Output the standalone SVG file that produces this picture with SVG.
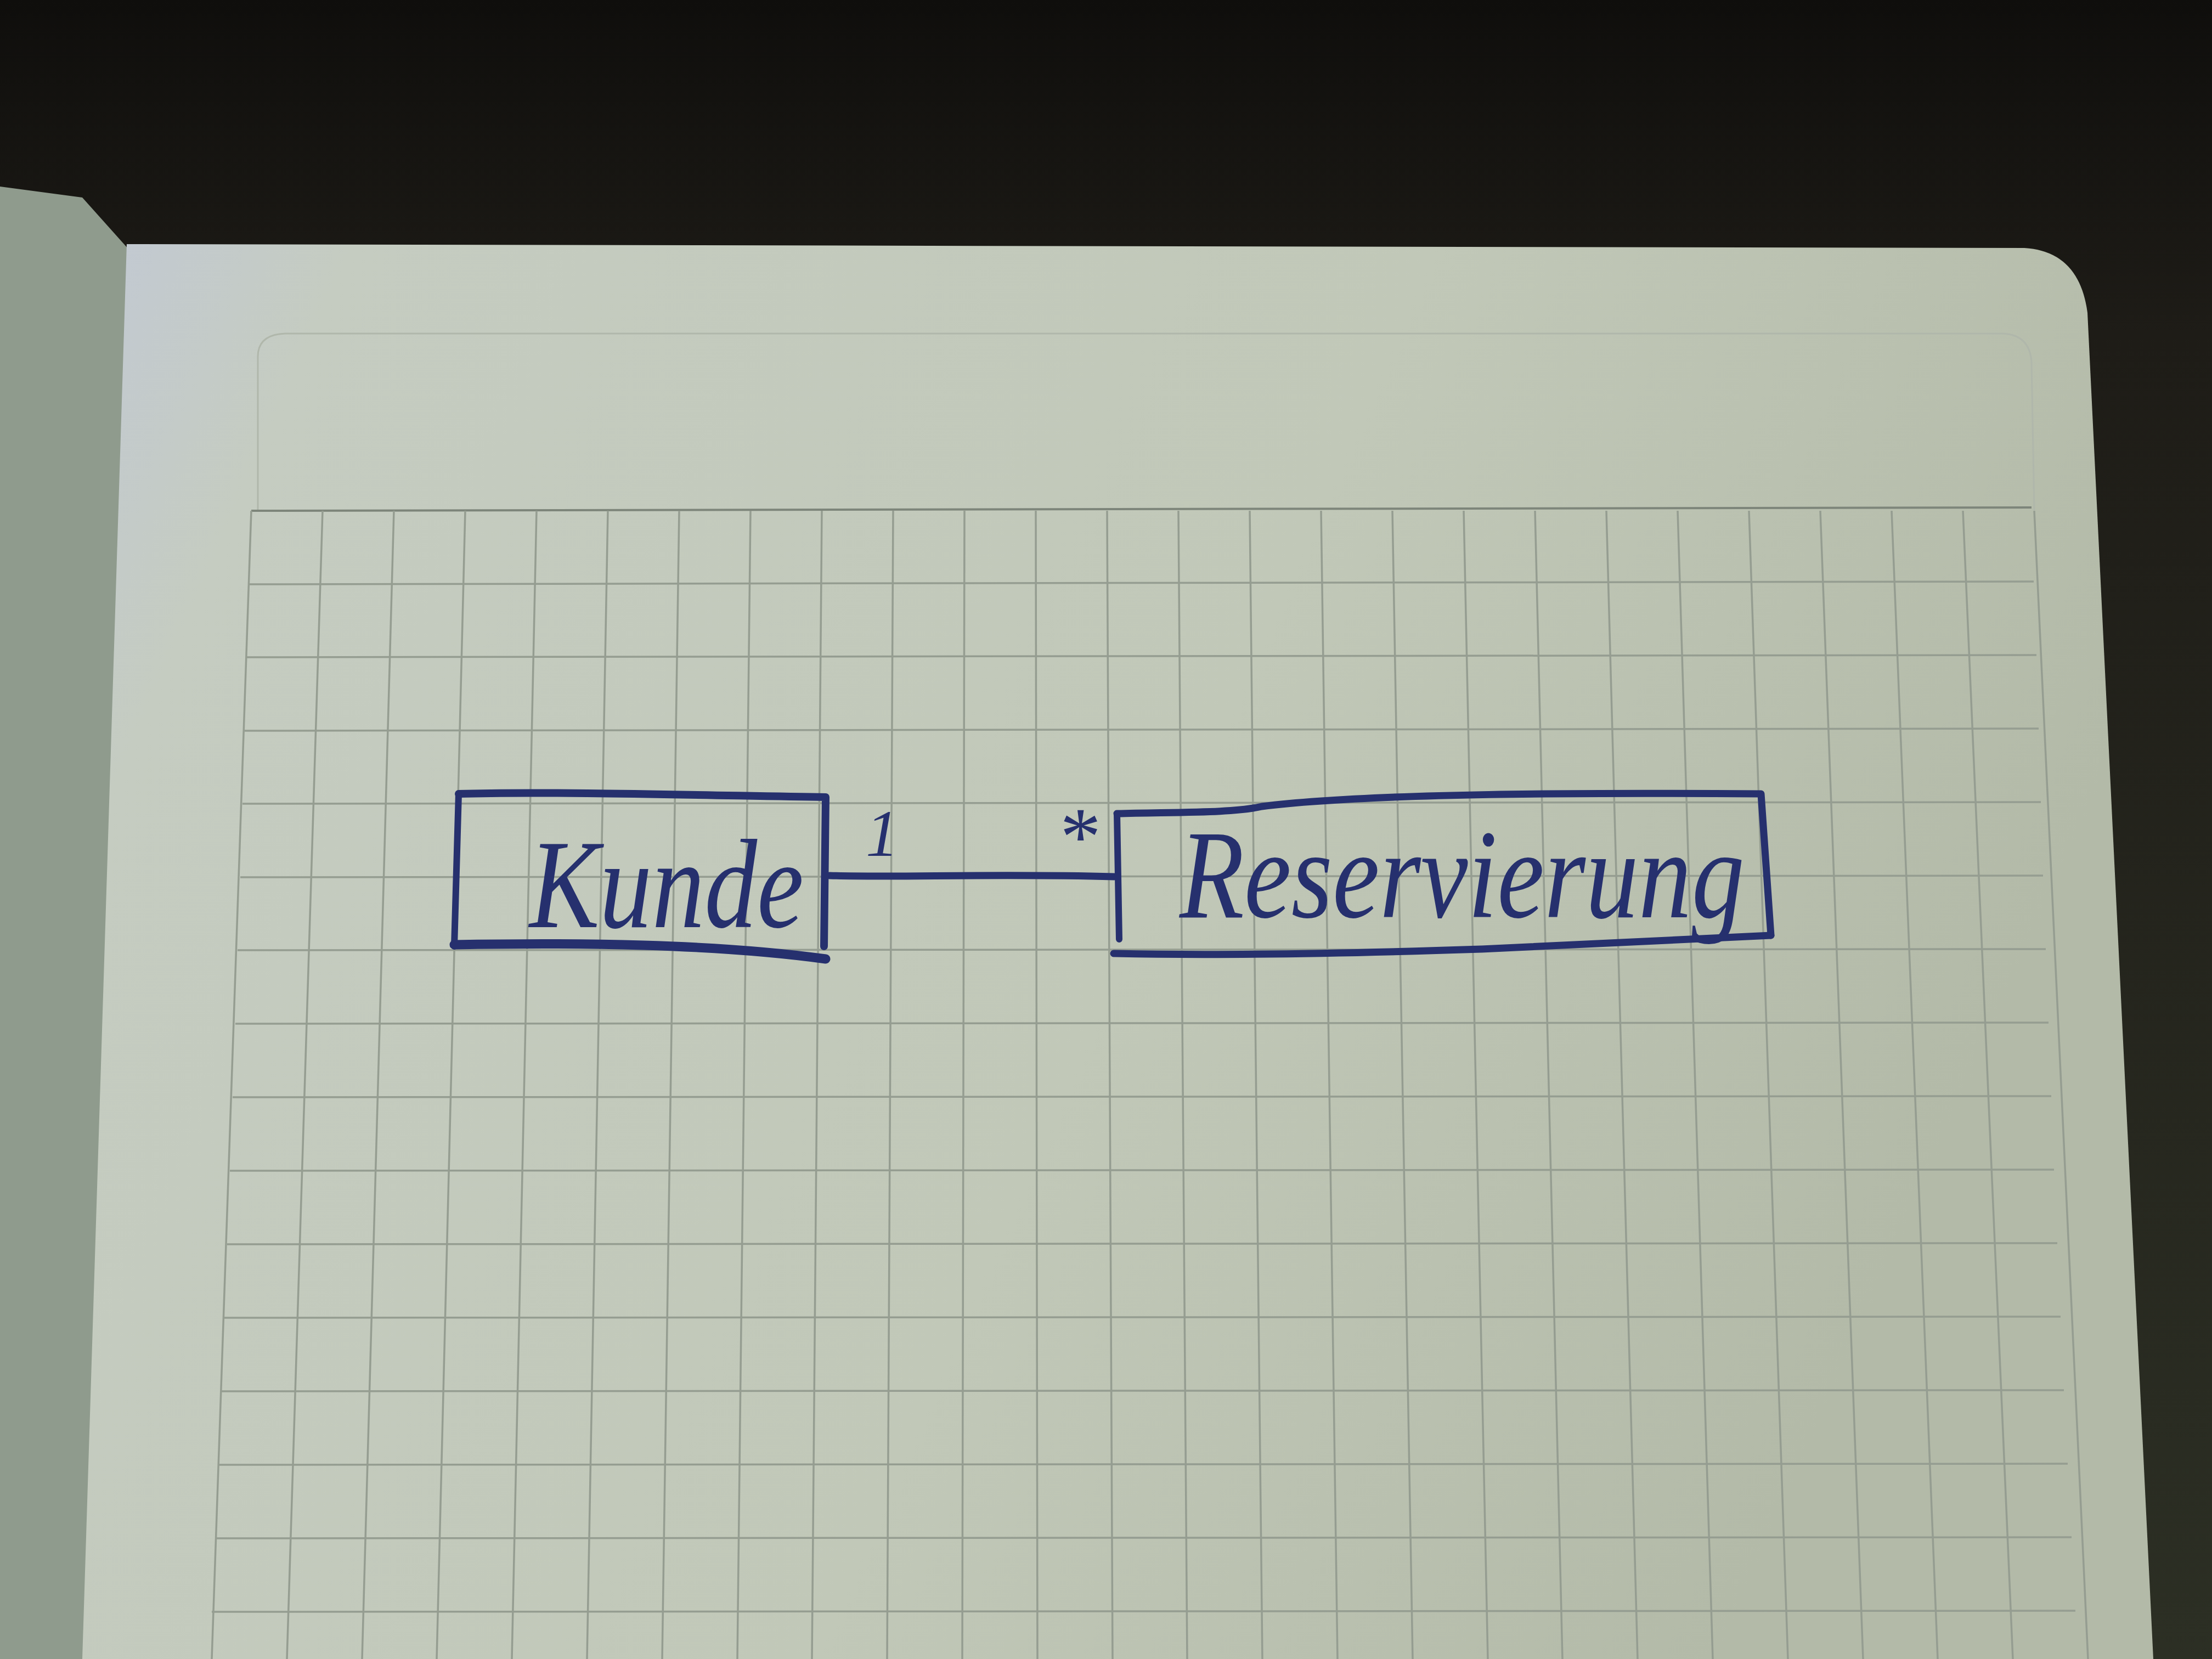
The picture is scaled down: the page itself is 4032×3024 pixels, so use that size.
<svg xmlns="http://www.w3.org/2000/svg" width="4032" height="3024" viewBox="0 0 4032 3024">
<defs>
<linearGradient id="paper" x1="0" y1="0" x2="1" y2="0.3">
<stop offset="0" stop-color="#c2c9d4"/>
<stop offset="0.12" stop-color="#c5ccc1"/>
<stop offset="0.6" stop-color="#c1c8b8"/>
<stop offset="1" stop-color="#b3baa8"/>
</linearGradient>
<linearGradient id="bg" x1="0" y1="0" x2="0" y2="1">
<stop offset="0" stop-color="#0f0e0c"/>
<stop offset="0.2" stop-color="#1e1c17"/>
<stop offset="1" stop-color="#2c2f24"/>
</linearGradient>
<style>
.grid{stroke:#959d91;stroke-width:3.5;fill:none}
.ink{stroke:#26306e;fill:none;stroke-linecap:round;stroke-linejoin:round}
.label{font-family:"Liberation Serif",serif;font-style:italic;fill:#26306e}
</style>
</defs>
<rect width="4032" height="3024" fill="url(#bg)"/>
<!-- left page -->
<path d="M0,340 L150,360 L235,455 L200,3024 L0,3024 Z" fill="#8f9b8d"/>
<!-- main page -->
<path d="M231,445 L3690,452 Q3790,458 3805,570 L3925,3024 L150,3024 Z" fill="url(#paper)"/>
<!-- header frame -->
<path d="M470,930 L470,650 Q470,610 520,608 L3650,608 Q3700,610 3703,660 L3708,930" fill="none" stroke="#b0b7ab" stroke-width="3"/>
<!-- grid -->
<g id="grid" class="grid">
<line x1="458" y1="931" x2="3703" y2="925" stroke="#7d857a" stroke-width="4"/>
<line x1="455" y1="1065" x2="3707" y2="1060"/>
<line x1="450" y1="1198" x2="3712" y2="1194"/>
<line x1="446" y1="1332" x2="3716" y2="1328"/>
<line x1="442" y1="1465" x2="3720" y2="1462"/>
<line x1="438" y1="1599" x2="3724" y2="1596"/>
<line x1="433" y1="1732" x2="3729" y2="1730"/>
<line x1="429" y1="1866" x2="3734" y2="1864"/>
<line x1="424" y1="2000" x2="3739" y2="1998"/>
<line x1="419" y1="2134" x2="3744" y2="2132"/>
<line x1="414" y1="2268" x2="3750" y2="2266"/>
<line x1="408" y1="2402" x2="3756" y2="2400"/>
<line x1="403" y1="2536" x2="3762" y2="2534"/>
<line x1="397" y1="2670" x2="3769" y2="2668"/>
<line x1="392" y1="2804" x2="3776" y2="2802"/>
<line x1="386" y1="2938" x2="3783" y2="2936"/>
<line x1="458" y1="931" x2="386" y2="3024"/>
<line x1="588" y1="931" x2="523" y2="3024"/>
<line x1="718" y1="931" x2="660" y2="3024"/>
<line x1="848" y1="931" x2="796" y2="3024"/>
<line x1="978" y1="931" x2="933" y2="3024"/>
<line x1="1108" y1="931" x2="1070" y2="3024"/>
<line x1="1238" y1="931" x2="1207" y2="3024"/>
<line x1="1368" y1="931" x2="1344" y2="3024"/>
<line x1="1498" y1="931" x2="1480" y2="3024"/>
<line x1="1628" y1="931" x2="1617" y2="3024"/>
<line x1="1758" y1="931" x2="1754" y2="3024"/>
<line x1="1888" y1="931" x2="1891" y2="3024"/>
<line x1="2018" y1="931" x2="2028" y2="3024"/>
<line x1="2148" y1="931" x2="2164" y2="3024"/>
<line x1="2278" y1="931" x2="2301" y2="3024"/>
<line x1="2408" y1="931" x2="2438" y2="3024"/>
<line x1="2538" y1="931" x2="2575" y2="3024"/>
<line x1="2668" y1="931" x2="2712" y2="3024"/>
<line x1="2798" y1="931" x2="2848" y2="3024"/>
<line x1="2928" y1="931" x2="2985" y2="3024"/>
<line x1="3058" y1="931" x2="3122" y2="3024"/>
<line x1="3188" y1="931" x2="3259" y2="3024"/>
<line x1="3318" y1="931" x2="3396" y2="3024"/>
<line x1="3448" y1="931" x2="3532" y2="3024"/>
<line x1="3578" y1="931" x2="3669" y2="3024"/>
<line x1="3708" y1="931" x2="3806" y2="3024"/>
</g>
<!-- connectors -->
<g id="connectors">
<path class="ink" stroke-width="13" d="M1512,1596 C1640,1600 1800,1592 2031,1598"/>
<text class="label" x="1578" y="1560" font-size="120" font-style="normal">1</text>
<text class="label" x="1925" y="1575" font-size="150" font-style="normal" font-family="Liberation Sans, sans-serif">*</text>
</g>
<!-- node Kunde -->
<g id="node-kunde">
<path class="ink" stroke-width="14" d="M836,1447 C1000,1442 1300,1450 1505,1453 L1502,1725"/>
<path class="ink" stroke-width="12" d="M836,1447 L828,1725"/>
<path class="ink" stroke-width="17" d="M828,1722 C1050,1718 1300,1720 1505,1748"/>
<text class="label" x="965" y="1690" font-size="230" textLength="500" lengthAdjust="spacingAndGlyphs">Kunde</text>
</g>
<!-- node Reservierung -->
<g id="node-reservierung">
<path class="ink" stroke-width="13" d="M2036,1483 C2150,1480 2250,1482 2300,1470 C2500,1445 2900,1445 3210,1447 L3228,1705"/>
<path class="ink" stroke-width="12" d="M2036,1483 L2040,1712"/>
<path class="ink" stroke-width="13" d="M2030,1738 C2200,1742 2400,1740 2700,1730 C2900,1722 3100,1712 3228,1705"/>
<text class="label" x="2150" y="1672" font-size="230" textLength="1030" lengthAdjust="spacingAndGlyphs">Reservierung</text>
</g>
</svg>
